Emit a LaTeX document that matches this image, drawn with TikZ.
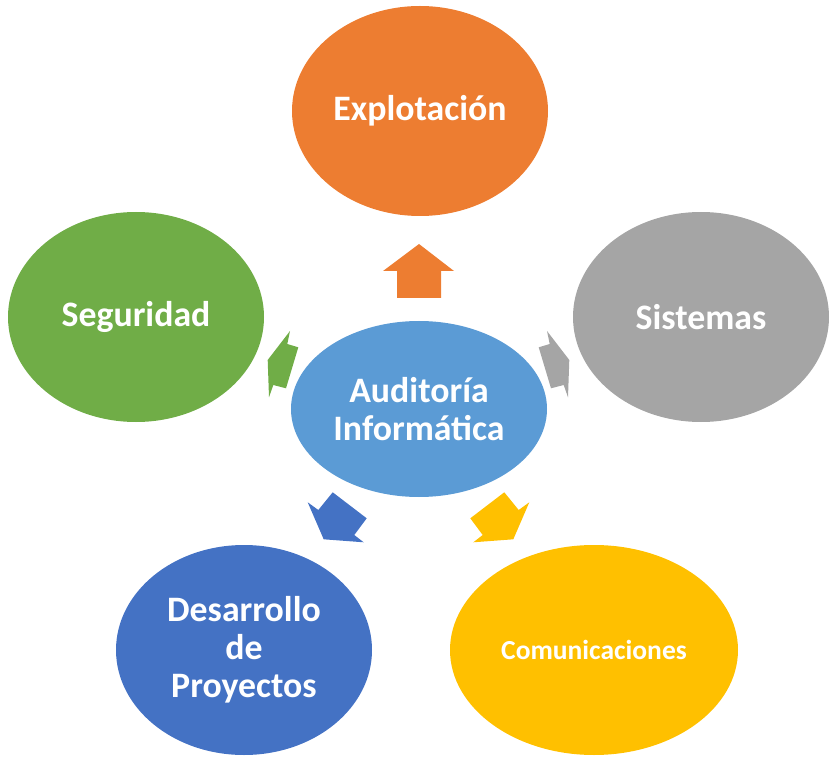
\documentclass[tikz,border=0pt]{standalone}
\usepackage{fontspec}
\setmainfont{Carlito}
\usetikzlibrary{shapes.geometric}
\definecolor{explotacion}{HTML}{ED7D31}
\definecolor{seguridad}{HTML}{70AD47}
\definecolor{sistemas}{HTML}{A5A5A5}
\definecolor{desarrollo}{HTML}{4472C4}
\definecolor{comunicaciones}{HTML}{FFC000}
\definecolor{auditoria}{HTML}{5B9BD5}
\begin{document}
\begin{tikzpicture}[x=1pt,y=-1pt,
    bubble/.style={ellipse,minimum width=256pt,minimum height=210pt,inner sep=0pt,
      text=white,align=center,font=\bfseries\fontsize{35.8}{38}\selectfont}]
      \useasboundingbox (0,0) rectangle (836,762);
      \path
        (419,409) node[bubble,fill=auditoria,minimum height=176pt] (A){Auditoría\\Informática}
        (420,111) node[bubble,fill=explotacion] (E){Explotación}
        (136,317) node[bubble,fill=seguridad] (S){Seguridad}
        (701,317) node[bubble,fill=sistemas] (Si){Sistemas}
        (244,650) node[bubble,fill=desarrollo] (D){Desarrollo\\de\\Proyectos}
        (594,650) node[bubble,fill=comunicaciones,minimum width=288pt,
          font=\bfseries\fontsize{27.5}{33}\selectfont] (C){Comunicaciones};
      \begin{scope}
        \fill[explotacion] (419,244) -- (454,271) -- (441,271) -- (441,298)
          -- (397,298) -- (397,271) -- (383,271) -- cycle;
        \fill[seguridad] (267.7,360) -- (290,331) -- (287.3,344) -- (298.3,347.3)
          -- (286,388.3) -- (273.3,385) -- (269,397.3) -- cycle;
        \fill[sistemas] (569.3,360) -- (547,331) -- (549.7,344) -- (538.7,347.3)
          -- (551,388.3) -- (563.7,385) -- (568,397.3) -- cycle;
        \fill[desarrollo] (307.7,502.3) -- (318.3,510) -- (332.7,492.3) -- (366.7,518.3)
          -- (354.3,535) -- (363.7,542.3) -- (323.7,539.3) -- cycle;
        \fill[comunicaciones] (529.3,502.3) -- (518.7,510) -- (504.3,492.3) -- (470.3,518.3)
          -- (482.7,535) -- (473.3,542.3) -- (513.3,539.3) -- cycle;
      \end{scope}
    \end{tikzpicture}
\end{document}
